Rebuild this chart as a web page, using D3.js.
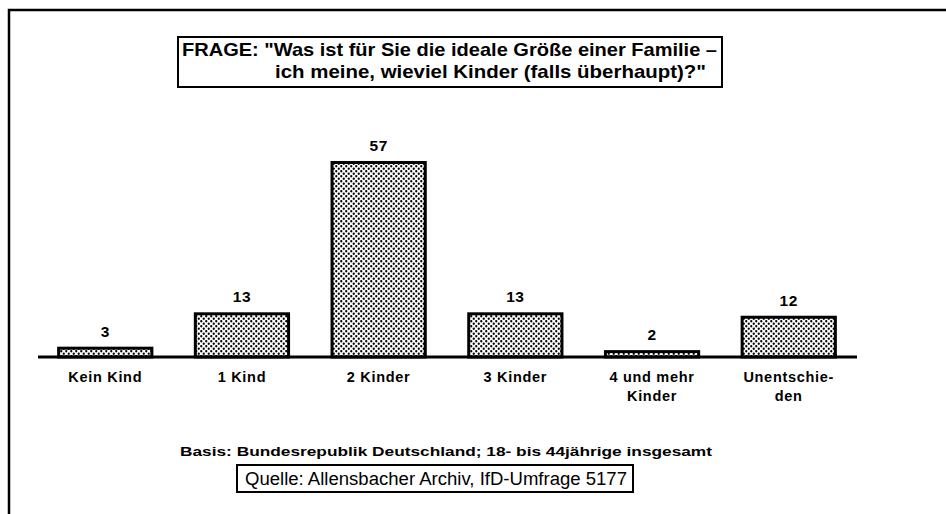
<!DOCTYPE html>
<html>
<head>
<meta charset="utf-8">
<script src="https://cdn.jsdelivr.net/npm/d3@7"></script>
<style>
  html, body { margin: 0; padding: 0; background: #fff; }
  svg { display: block; }
  text { font-family: "Liberation Sans", Arial, sans-serif; fill: #000; }
</style>
</head>
<body>
<svg id="chart" width="946" height="514"></svg>
<script>
// Survey answers: ideal number of children (percent)
const categories = ["Kein Kind", "1 Kind", "2 Kinder", "3 Kinder", "4 und mehr\nKinder", "Unentschie-\nden"];
const values = [3, 13, 57, 13, 2, 12];
const questionLines = [
  "FRAGE: \"Was ist für Sie die ideale Größe einer Familie –",
  "ich meine, wieviel Kinder (falls überhaupt)?\""
];
const basisText = "Basis: Bundesrepublik Deutschland; 18- bis 44jährige insgesamt";
const sourceText = "Quelle: Allensbacher Archiv, IfD-Umfrage 5177";

const svg = d3.select("#chart");

// dotted screen fill for the bars
const defs = svg.append("defs");
const pat = defs.append("pattern")
  .attr("id", "dots")
  .attr("patternUnits", "userSpaceOnUse")
  .attr("width", 5).attr("height", 5);
pat.append("rect").attr("width", 5).attr("height", 5).attr("fill", "#fff");
pat.append("circle").attr("cx", 1.25).attr("cy", 1.25).attr("r", 1.15).attr("fill", "#000");
pat.append("circle").attr("cx", 3.75).attr("cy", 3.75).attr("r", 1.15).attr("fill", "#000");

// page frame (top and left rules)
svg.append("path")
  .attr("d", "M9,514 V10 H946")
  .attr("fill", "none")
  .attr("stroke", "#000")
  .attr("stroke-width", 2.5);

const baseY = 357;
const x = d3.scaleBand()
  .domain(categories)
  .range([38, 856])
  .paddingInner(0.296)
  .paddingOuter(0.14);
const y = d3.scaleLinear()
  .domain([0, 57])
  .range([baseY, 161]);

const data = categories.map((c, i) => ({ c, v: values[i] }));

// bars
svg.append("g").selectAll("rect")
  .data(data)
  .join("rect")
  .attr("x", d => x(d.c) + 1.5)
  .attr("y", d => y(d.v) + 1.5)
  .attr("width", x.bandwidth() - 3)
  .attr("height", d => Math.max(0, baseY - y(d.v) - 1.5))
  .attr("fill", "url(#dots)")
  .attr("stroke", "#000")
  .attr("stroke-width", 3);

// baseline
svg.append("line")
  .attr("x1", 38).attr("x2", 857)
  .attr("y1", baseY).attr("y2", baseY)
  .attr("stroke", "#000")
  .attr("stroke-width", 3);

// value labels
svg.append("g").selectAll("text")
  .data(data)
  .join("text")
  .attr("x", d => x(d.c) + x.bandwidth() / 2)
  .attr("y", d => y(d.v) - 10)
  .attr("text-anchor", "middle")
  .attr("font-weight", "bold")
  .attr("font-size", 15.5)
  .attr("letter-spacing", 0.5)
  .text(d => d.v);

// category labels
const catG = svg.append("g");
data.forEach(d => {
  const t = catG.append("text")
    .attr("text-anchor", "middle")
    .attr("font-weight", "bold")
    .attr("font-size", 14.5)
    .attr("letter-spacing", 0.7);
  d.c.split("\n").forEach((line, k) => {
    t.append("tspan")
      .attr("x", x(d.c) + x.bandwidth() / 2)
      .attr("y", 382 + k * 19)
      .text(line);
  });
});

// question box
svg.append("rect")
  .attr("x", 178).attr("y", 37)
  .attr("width", 544).attr("height", 50)
  .attr("fill", "#fff")
  .attr("stroke", "#000")
  .attr("stroke-width", 2);
svg.append("text")
  .attr("x", 182).attr("y", 56)
  .attr("font-weight", "bold").attr("font-size", 18.5)
  .attr("textLength", 535).attr("lengthAdjust", "spacingAndGlyphs")
  .text(questionLines[0]);
svg.append("text")
  .attr("x", 275).attr("y", 78)
  .attr("font-weight", "bold").attr("font-size", 18.5)
  .attr("textLength", 431).attr("lengthAdjust", "spacingAndGlyphs")
  .text(questionLines[1]);

// basis note
svg.append("text")
  .attr("x", 180).attr("y", 456)
  .attr("font-weight", "bold").attr("font-size", 13.5)
  .attr("textLength", 532).attr("lengthAdjust", "spacingAndGlyphs")
  .text(basisText);

// source box
svg.append("rect")
  .attr("x", 237).attr("y", 465)
  .attr("width", 396).attr("height", 27)
  .attr("fill", "#fff")
  .attr("stroke", "#000")
  .attr("stroke-width", 2);
svg.append("text")
  .attr("x", 245).attr("y", 485)
  .attr("font-size", 18)
  .attr("textLength", 382).attr("lengthAdjust", "spacingAndGlyphs")
  .text(sourceText);
</script>
</body>
</html>
